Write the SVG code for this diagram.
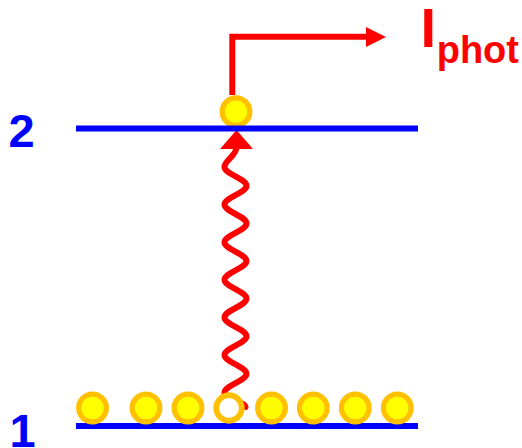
<svg xmlns="http://www.w3.org/2000/svg" width="522" height="448" viewBox="0 0 522 448">
<style>
.lvl{stroke:#0000FF;stroke-width:6;fill:none}
.lbl{font-family:"Liberation Sans",Arial,sans-serif;font-weight:bold;font-size:47px;fill:#0000FF;text-anchor:middle}
.e{fill:#FFFF00;stroke:#FFC000;stroke-width:5.3}
.h{fill:#FFFFFF;stroke:#FFC000;stroke-width:5.8}
.red{stroke:#FF0000;stroke-width:6;fill:none}
.ah{fill:#FF0000}
.cur{font-family:"Liberation Sans",Arial,sans-serif;font-weight:bold;fill:#FF0000}
</style>
<g id="connectors">
<path class="red" stroke-linecap="round" d="M236.5 147 C236.5 156 224.5 160 224.5 167 C224.5 174 246.5 178.8 246.5 185.8 S224.5 197.6 224.5 204.6 S246.5 216.4 246.5 223.4 S224.5 235.2 224.5 242.2 S246.5 254 246.5 261 S224.5 272.8 224.5 279.8 S246.5 291.6 246.5 298.6 S224.5 310.4 224.5 317.4 S246.5 329.2 246.5 336.2 S224.5 348 224.5 355 S246.5 366.8 246.5 373.8 S224.5 385.6 224.5 392.6 S245.5 402 245.5 407"/>
<polygon class="ah" points="220,149 253,149 236.5,130"/>
<path class="red" stroke-linejoin="miter" d="M232.3 95 L232.3 36.7 L367 36.7"/>
<polygon class="ah" points="366,27 386,37 366,47"/>
</g>
<g id="electron-top"><circle class="e" cx="236" cy="111.7" r="13.8"/></g>
<g id="level-2">
<line class="lvl" x1="76" y1="128.5" x2="418" y2="128.5"/>
<text class="lbl" x="21.5" y="147">2</text>
</g>
<g id="level-1">
<line class="lvl" x1="76" y1="426" x2="418" y2="426"/>
<text class="lbl" x="22.5" y="446.7">1</text>
</g>
<g id="electrons">
<circle class="e" cx="92.5" cy="408" r="13.8"/>
<circle class="e" cx="146" cy="408" r="13.8"/>
<circle class="e" cx="188" cy="408" r="13.8"/>
<circle class="h" cx="229" cy="408" r="12.8"/>
<circle class="e" cx="271.5" cy="408" r="13.8"/>
<circle class="e" cx="313.3" cy="408" r="13.8"/>
<circle class="e" cx="355.3" cy="408" r="13.8"/>
<circle class="e" cx="397.3" cy="408" r="13.8"/>
</g>
<g id="label-iphot">
<text class="cur"><tspan x="420.4" y="47" font-size="56">I</tspan><tspan x="436.7" y="63" font-size="38">phot</tspan></text>
</g>
</svg>
